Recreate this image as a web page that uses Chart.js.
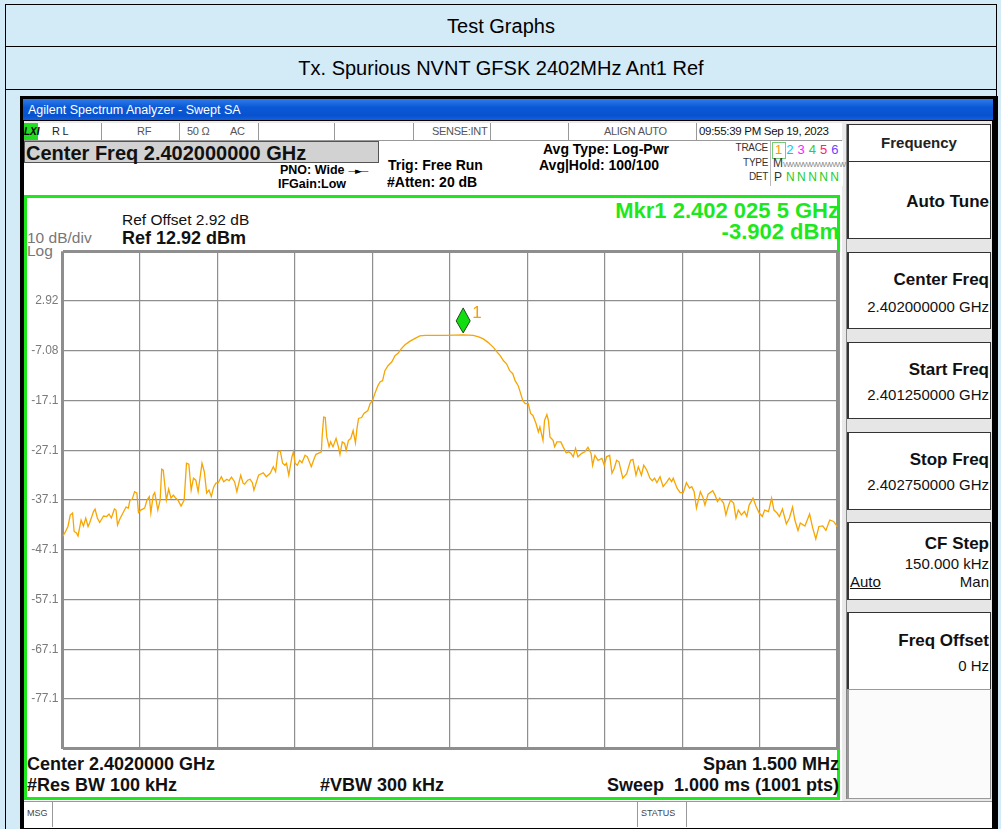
<!DOCTYPE html>
<html>
<head>
<meta charset="utf-8">
<script src="https://cdn.jsdelivr.net/npm/chart.js@4.4.0/dist/chart.umd.min.js"></script>
<style>
  html, body { margin: 0; padding: 0; }
  body { width: 1001px; height: 829px; overflow: hidden; background: #d3eaf7; position: relative;
         font-family: "Liberation Sans", Arial, sans-serif; }
  .abs { position: absolute; white-space: nowrap; line-height: 1; }
  .b { font-weight: bold; }
  .r { text-align: right; }
  .row { position: absolute; left: 5px; width: 992px; border: 1px solid #000; box-sizing: border-box;
         text-align: center; font-size: 20px; color: #000; }
  #win { position: absolute; left: 20px; top: 96px; width: 978px; height: 740px; background: #000; }
  #titlebar { position: absolute; left: 23px; top: 99px; width: 970px; height: 21px;
              background: linear-gradient(#2f7bea, #0a58d6 40%, #0852cf 80%, #1560dc); }
  #screen { position: absolute; left: 24px; top: 121px; width: 968px; height: 706px; background: #e9e9e9; }
  #status { position: absolute; left: 24px; top: 123px; width: 818px; height: 17px; background: #fff;
            border-bottom: 1px solid #999; }
  .div { position: absolute; top: 123px; width: 1px; height: 17px; background: #999; }
  .st { font-size: 11px; color: #555; top: 126px; letter-spacing: -0.3px; }
  #main { position: absolute; left: 24px; top: 141px; width: 818px; height: 660px; background: #fff; }
  #cfbox { position: absolute; left: 24px; top: 141px; width: 355px; height: 22px; background: #d2d2d2;
           border: 1px solid #555; box-sizing: border-box; }
  #green { position: absolute; left: 24px; top: 195px; width: 816px; height: 605px;
           border: 3px solid #1de81d; box-sizing: border-box; }
  #panel { position: absolute; left: 846px; top: 124px; width: 146px; height: 675px; background: #e6e6e6;
           border-left: 1px solid #888; box-sizing: border-box; }
  .key { position: absolute; left: 847px; width: 144px; background: #fff; box-sizing: border-box;
         border: 1px solid #333; border-left: 2px solid #333; }
  .kt { font-size: 17px; font-weight: bold; color: #111; right: 12px; }
  .kv { font-size: 15px; color: #111; right: 12px; }
  #msg { position: absolute; left: 24px; top: 801px; width: 968px; height: 26px; background: #fff;
         border-top: 1px solid #999; }
  canvas { position: absolute; left: 20px; top: 240px; }
</style>
</head>
<body>

<div class="row" style="top:4px;height:43px;line-height:42px;">Test Graphs</div>
<div class="row" style="top:46px;height:44px;line-height:43px;">Tx. Spurious NVNT GFSK 2402MHz Ant1 Ref</div>
<div class="row" style="top:89px;height:760px;"></div>

<div id="win"></div>
<div id="titlebar"></div>
<div class="abs" style="left:28px;top:104px;font-size:12.5px;color:#fff;">Agilent Spectrum Analyzer - Swept SA</div>
<div id="screen"></div>

<!-- status row -->
<div id="status"></div>
<div class="abs b" style="left:24px;top:123px;width:14px;height:17px;background:#22dd22;font-size:10px;font-style:italic;line-height:17px;">LXI</div>
<div class="div" style="left:101px"></div>
<div class="div" style="left:179px"></div>
<div class="div" style="left:258px"></div>
<div class="div" style="left:334px"></div>
<div class="div" style="left:413px"></div>
<div class="div" style="left:490px"></div>
<div class="div" style="left:568px"></div>
<div class="div" style="left:696px"></div>
<div class="abs st" style="left:52px;color:#222">R L</div>
<div class="abs st" style="left:137px">RF</div>
<div class="abs st" style="left:187px">50 Ω</div>
<div class="abs st" style="left:230px">AC</div>
<div class="abs st" style="left:432px">SENSE:INT</div>
<div class="abs st" style="left:604px">ALIGN AUTO</div>
<div class="abs st" style="left:699px;color:#111;font-size:11.5px;">09:55:39 PM Sep 19, 2023</div>

<div id="main"></div>
<div id="cfbox"></div>
<div class="abs b" style="left:26px;top:143px;font-size:20px;color:#111;">Center Freq 2.402000000 GHz</div>
<div class="abs b" style="left:280px;top:164px;font-size:12.5px;">PNO: Wide <span style="font-family:'DejaVu Sans';font-weight:normal;font-size:9px;letter-spacing:-2px;">—►—</span></div>
<div class="abs b" style="left:278px;top:178px;font-size:12.5px;">IFGain:Low</div>
<div class="abs b" style="left:388px;top:158px;font-size:14px;">Trig: Free Run</div>
<div class="abs b" style="left:387px;top:175px;font-size:14px;">#Atten: 20 dB</div>
<div class="abs b" style="left:543px;top:142px;font-size:14px;">Avg Type: Log-Pwr</div>
<div class="abs b" style="left:539px;top:158px;font-size:14px;">Avg|Hold: 100/100</div>

<!-- trace info box -->
<div class="abs r" style="right:233px;top:143px;font-size:10px;color:#333;letter-spacing:-0.3px;">TRACE</div>
<div class="abs r" style="right:233px;top:158px;font-size:10px;color:#333;letter-spacing:-0.3px;">TYPE</div>
<div class="abs r" style="right:233px;top:172px;font-size:10px;color:#333;letter-spacing:-0.3px;">DET</div>
<div class="abs" style="left:770px;top:141px;width:72px;height:45px;border-left:1px solid #bbb;background:#fff;"></div>
<div class="abs" style="left:772px;top:142px;width:12px;height:15px;border:1px solid #7c7;"></div>
<div class="abs" style="left:775px;top:143px;font-size:13px;">
  <span style="color:#ff9900">1</span><span style="color:#00c8ff;margin-left:4px">2</span><span style="color:#ff22ff;margin-left:4px">3</span><span style="color:#33cc33;margin-left:4px">4</span><span style="color:#ff2266;margin-left:4px">5</span><span style="color:#6644ff;margin-left:4px">6</span>
</div>
<div class="abs" style="left:773px;top:157px;font-size:12px;color:#333;">M<span style="font-size:8px;color:#888;letter-spacing:-1px;">WWWWWWWWWW</span></div>
<div class="abs" style="left:774px;top:171px;font-size:12px;color:#333;">P<span style="color:#22cc22;margin-left:4px;letter-spacing:2.4px;">NNNNN</span></div>

<div id="green"></div>
<div class="abs" style="left:122px;top:212px;font-size:15.5px;color:#111;">Ref Offset 2.92 dB</div>
<div class="abs b" style="left:122px;top:229px;font-size:18px;color:#111;">Ref 12.92 dBm</div>
<div class="abs" style="left:27px;top:230px;font-size:15.5px;color:#777;">10 dB/div</div>
<div class="abs" style="left:27px;top:243px;font-size:15.5px;color:#777;">Log</div>
<div class="abs b r" style="right:162px;top:200px;font-size:22px;color:#1de81d;">Mkr1 2.402 025 5 GHz</div>
<div class="abs b r" style="right:162px;top:221px;font-size:22px;color:#1de81d;">-3.902 dBm</div>

<div class="abs b" style="left:27px;top:755px;font-size:18px;color:#111;">Center 2.4020000 GHz</div>
<div class="abs b r" style="right:162px;top:755px;font-size:18px;color:#111;">Span 1.500 MHz</div>
<div class="abs b" style="left:27px;top:776px;font-size:18px;color:#111;">#Res BW 100 kHz</div>
<div class="abs b" style="left:320px;top:776px;font-size:18px;color:#111;">#VBW 300 kHz</div>
<div class="abs b r" style="right:162px;top:776px;font-size:18px;color:#111;">Sweep&nbsp; 1.000 ms (1001 pts)</div>

<!-- softkey panel -->
<div id="panel"></div>
<div class="key" style="top:124px;height:38px;"></div>
<div class="abs b" style="left:847px;width:144px;text-align:center;top:135px;font-size:15px;color:#222;">Frequency</div>
<div class="key" style="top:161px;height:78px;"></div>
<div class="abs kt" style="top:193px;">Auto Tune</div>
<div class="key" style="top:252px;height:77px;"></div>
<div class="abs kt" style="top:271px;">Center Freq</div>
<div class="abs kv" style="top:299px;">2.402000000 GHz</div>
<div class="key" style="top:342px;height:77px;"></div>
<div class="abs kt" style="top:361px;">Start Freq</div>
<div class="abs kv" style="top:387px;">2.401250000 GHz</div>
<div class="key" style="top:432px;height:78px;"></div>
<div class="abs kt" style="top:451px;">Stop Freq</div>
<div class="abs kv" style="top:477px;">2.402750000 GHz</div>
<div class="key" style="top:522px;height:78px;"></div>
<div class="abs kt" style="top:535px;">CF Step</div>
<div class="abs kv" style="top:556px;">150.000 kHz</div>
<div class="abs" style="left:850px;top:574px;font-size:15px;color:#111;text-decoration:underline;">Auto</div>
<div class="abs kv" style="top:574px;">Man</div>
<div class="key" style="top:612px;height:78px;"></div>
<div class="abs kt" style="top:632px;">Freq Offset</div>
<div class="abs kv" style="top:658px;">0 Hz</div>
<div class="key" style="top:689px;height:110px;border-color:#999;background:#fbfbfb;"></div>

<div id="msg"></div>
<div class="abs" style="left:52px;top:801px;width:1px;height:26px;background:#999;"></div>
<div class="abs" style="left:637px;top:801px;width:1px;height:26px;background:#999;"></div>
<div class="abs" style="left:686px;top:801px;width:1px;height:26px;background:#999;"></div>
<div class="abs" style="left:27px;top:809px;font-size:9px;color:#444;">MSG</div>
<div class="abs" style="left:641px;top:809px;font-size:9px;color:#444;">STATUS</div>

<canvas id="sa" width="822" height="520"></canvas>

<script>
// trace point number (0..1000 of 1001 pts) and level in dBm
const pointIndex = [
  0, 3, 7, 10, 13, 15, 18, 20, 24, 27, 30, 33, 35, 40, 42, 45, 48, 53, 57, 60,
  63, 67, 69, 71, 74, 78, 82, 85, 87, 90, 93, 96, 98, 101, 106, 109, 112, 114, 117, 119,
  123, 126, 128, 130, 134, 137, 140, 143, 146, 149, 153, 157, 160, 163, 166, 169, 172, 175, 180, 183,
  186, 189, 192, 195, 198, 201, 205, 208, 212, 215, 218, 222, 225, 228, 230, 233, 235, 239, 242, 245,
  247, 253, 259, 263, 268, 272, 275, 278, 281, 284, 287, 289, 292, 296, 298, 300, 303, 306, 309, 313,
  316, 321, 324, 327, 330, 334, 335, 337, 339, 341, 344, 346, 349, 353, 356, 358, 361, 364, 366, 369,
  372, 375, 378, 380, 382, 386, 389, 394, 397, 400, 403, 407, 410, 413, 416, 420, 425, 429, 433, 437,
  442, 448, 455, 461, 468, 494, 517, 530, 537, 543, 549, 556, 560, 565, 569, 573, 577, 581, 584, 588,
  590, 594, 597, 601, 604, 607, 611, 614, 616, 620, 622, 625, 627, 629, 633, 635, 638, 643, 646, 650,
  653, 656, 659, 662, 665, 670, 674, 678, 682, 684, 687, 691, 696, 699, 702, 706, 709, 712, 715, 718,
  723, 728, 733, 736, 740, 743, 747, 750, 754, 758, 761, 764, 767, 771, 775, 780, 783, 786, 788, 793,
  797, 801, 805, 809, 812, 815, 818, 823, 826, 829, 833, 839, 842, 845, 848, 853, 856, 859, 862, 866,
  869, 872, 876, 880, 883, 886, 891, 895, 899, 903, 906, 911, 915, 918, 922, 925, 929, 934, 938, 942,
  945, 949, 952, 958, 964, 968, 972, 976, 981, 985, 990, 995, 999, 1000
];
const levelDbm = [
  -44.4, -43.7, -42.4, -40.1, -39.7, -43.4, -43.7, -44.3, -41.1, -42.3, -40.7, -42.4, -41.7, -39.4, -38.9, -40.7, -41.6, -40.3, -40.4, -39.9,
  -40.7, -38.9, -39.1, -42.1, -40.9, -39.7, -38.5, -38.7, -37.1, -36.9, -35.4, -35.7, -39.6, -39.1, -38.7, -37.1, -36.4, -39.7, -36.1, -35.6,
  -39.1, -37.1, -30.9, -31.1, -37.1, -34.9, -36.7, -36.1, -36.7, -37.1, -38.3, -37.1, -29.7, -29.9, -35.1, -32.7, -33.1, -35.4, -29.7, -31.4,
  -35.7, -35.1, -36.4, -34.5, -33.7, -33.6, -32.4, -33.4, -32.9, -33.2, -32.5, -33.4, -35.4, -33.4, -32.1, -33.7, -33.9, -33.1, -32.9, -33.6,
  -35.1, -32.1, -31.6, -32.4, -31.7, -30.4, -31.4, -27.4, -27.2, -29.7, -30.1, -29.7, -32.1, -28.4, -27.4, -29.7, -30.1, -29.1, -29.6, -28.1,
  -28.4, -30.4, -29.1, -27.9, -27.7, -27.4, -24.4, -20.4, -20.5, -24.4, -26.4, -25.4, -26.4, -24.7, -26.4, -27.9, -25.4, -25.7, -27.1, -25.1,
  -24.7, -23.1, -25.6, -22.7, -20.7, -20.5, -19.7, -19.1, -17.7, -17.1, -15.7, -14.1, -13.3, -13.1, -11.1, -10.1, -9.3, -8.1, -7.6, -6.7,
  -5.9, -5.2, -4.6, -4.1, -4.0, -4.0, -3.9, -4.0, -4.3, -4.7, -5.4, -6.4, -7.2, -8.1, -9.1, -9.7, -11.1, -11.7, -13.1, -14.1,
  -15.1, -17.1, -17.7, -17.7, -19.7, -20.1, -21.7, -23.4, -22.4, -25.1, -21.1, -19.9, -21.1, -24.4, -25.1, -26.4, -25.4, -25.4, -26.4, -27.6,
  -27.4, -27.7, -28.4, -26.7, -28.4, -27.7, -27.4, -26.5, -27.7, -30.1, -28.1, -29.1, -28.7, -30.1, -28.4, -28.1, -31.7, -30.7, -29.1, -29.4,
  -32.7, -31.8, -29.1, -28.9, -32.1, -30.4, -32.1, -30.1, -31.1, -32.7, -33.2, -32.7, -33.6, -32.4, -34.4, -33.4, -32.7, -33.4, -32.7, -34.7,
  -35.6, -35.6, -33.6, -34.7, -34.4, -35.4, -38.7, -35.4, -36.4, -38.1, -35.9, -35.2, -36.1, -37.4, -36.7, -37.7, -40.1, -38.4, -37.1, -37.7,
  -40.7, -39.1, -40.1, -39.4, -40.4, -38.1, -36.7, -38.4, -39.7, -40.4, -39.1, -39.4, -36.7, -39.1, -39.7, -40.4, -38.9, -41.9, -40.7, -38.5,
  -41.1, -43.2, -41.7, -42.3, -39.9, -42.7, -44.9, -42.4, -42.3, -43.2, -41.1, -41.4, -42.3, -42.5
];

// graticule: ref level 12.92 dBm, 10 dB/div, 10 divisions
const yTickValues = [12.92, 2.92, -7.08, -17.08, -27.08, -37.08, -47.08, -57.08, -67.08, -77.08, -87.08];
const yTickLabels = ['', '2.92', '-7.08', '-17.1', '-27.1', '-37.1', '-47.1', '-57.1', '-67.1', '-77.1', ''];

// marker 1
const markerIndex = 517;
const markerLevel = -3.902;
const markerName = '1';

const traceData = pointIndex.map((p, i) => ({ x: p, y: levelDbm[i] }));

// --- draws the green marker diamond above the peak ---
const markerPlugin = {
    id: 'marker',
    afterDatasetsDraw(chart) {
        const ctx = chart.ctx;
        const x = chart.scales.x.getPixelForValue(markerIndex);
        const y = chart.scales.y.getPixelForValue(markerLevel);
        ctx.save();
        ctx.beginPath();
        ctx.moveTo(x, y - 2);
        ctx.lineTo(x - 7, y - 14);
        ctx.lineTo(x, y - 27);
        ctx.lineTo(x + 7, y - 14);
        ctx.closePath();
        ctx.fillStyle = '#11dd11';
        ctx.fill();
        ctx.strokeStyle = '#1b4d1b';
        ctx.lineWidth = 1;
        ctx.stroke();
        ctx.fillStyle = '#f5a000';
        ctx.font = '17px "Liberation Sans", Arial, sans-serif';
        ctx.textBaseline = 'alphabetic';
        ctx.fillText(markerName, x + 9, y - 17);
        ctx.restore();
    }
};

const edgeWidth = (c, last) => (c.index === 0 || c.index === last) ? 3 : 1.2;

new Chart(document.getElementById('sa').getContext('2d'), {
    type: 'line',
    data: {
        datasets: [{
            data: traceData,
            borderColor: '#f7a500',
            borderWidth: 1.3,
            pointRadius: 0,
            tension: 0,
            fill: false
        }]
    },
    options: {
        responsive: false,
        animation: false,
        devicePixelRatio: 1,
        layout: { padding: { left: 0, right: 4.5, top: 10, bottom: 10 } },
        plugins: { legend: { display: false }, tooltip: { enabled: false } },
        scales: {
            x: {
                type: 'linear', min: 0, max: 1000,
                ticks: { stepSize: 100, display: false },
                grid: { color: '#8e8e8e', lineWidth: c => edgeWidth(c, 10), drawTicks: false },
                border: { display: false },
                afterFit: s => { s.height = 0; }
            },
            y: {
                type: 'linear', min: -87.08, max: 12.92,
                afterBuildTicks: s => { s.ticks = yTickValues.map(v => ({ value: v })); },
                ticks: {
                    padding: 4,
                    color: '#7a7a7a',
                    font: { family: '"Liberation Sans", Arial, sans-serif', size: 12 },
                    callback: (v, i) => yTickLabels[i]
                },
                grid: { color: '#8e8e8e', lineWidth: c => edgeWidth(c, 10), drawTicks: false },
                border: { display: false },
                afterFit: s => { s.width = 42.5; }
            }
        }
    },
    plugins: [markerPlugin]
});
</script>
</body>
</html>
